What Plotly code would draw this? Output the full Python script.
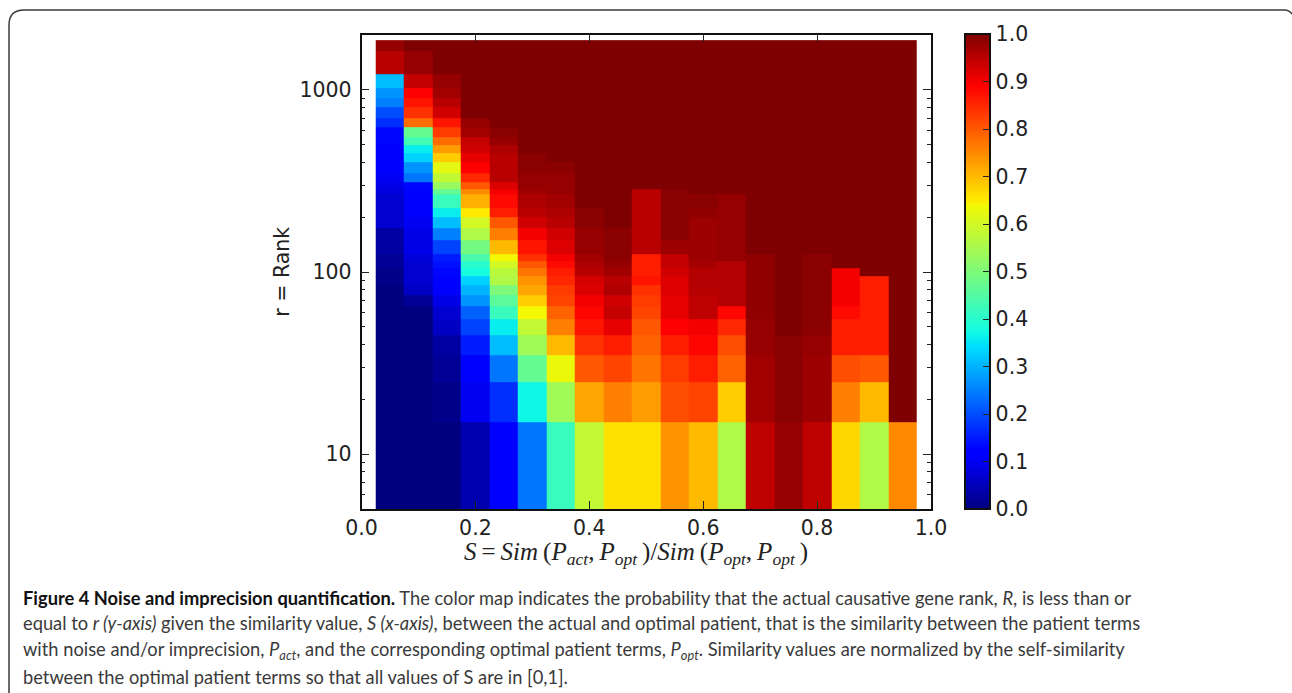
import plotly.graph_objects as go

W, H = 1292, 693
x_edges = [0.025, 0.075, 0.125, 0.175, 0.225, 0.275, 0.325, 0.375, 0.425, 0.475,
           0.525, 0.575, 0.625, 0.675, 0.725, 0.775, 0.825, 0.875, 0.925, 0.975]
rank_edges = [5, 15, 25, 35, 45, 55, 65, 75, 85, 95, 105, 115, 125, 150, 175, 200, 225, 267, 285,
              310, 350, 400, 450, 500, 550, 625, 700, 800, 900, 1025, 1225, 1625, 1875]

# values per S column, from the lowest rank bin upwards (32 bins)
s05 = [0,0,0,0,0,0,0,0,.01,.01,.02,.02,.03,.03,.07,.07,.07,.08,.09,.10,.11,.12,.12,.13,.13,.17,.20,.25,.27,.31,.95,.98]
s10 = [0,0,0,0,0,0,.02,.06,.07,.07,.07,.08,.09,.09,.10,.11,.12,.12,.13,.24,.27,.33,.36,.43,.47,.78,.84,.87,.89,.94,.98,1]
s15 = [0,.01,.02,.03,.06,.07,.09,.12,.125,.13,.14,.15,.19,.25,.31,.36,.42,.47,.53,.58,.62,.68,.73,.78,.83,.87,.93,.95,.97,.98,1,1]
s20 = [.04,.10,.125,.15,.19,.22,.27,.30,.33,.38,.40,.44,.49,.56,.60,.65,.71,.75,.80,.85,.89,.91,.93,.94,.97,.98,1,1,1,1,1,1]
s25 = [.11,.17,.24,.31,.36,.42,.46,.50,.56,.57,.60,.64,.70,.76,.80,.86,.88,.90,.92,.95,.95,.95,.96,.98,.99,1,1,1,1,1,1,1]
s30 = [.24,.37,.47,.54,.58,.64,.68,.72,.74,.77,.80,.84,.87,.90,.93,.95,.96,.97,.98,.98,.99,.99,1,1,1,1,1,1,1,1,1,1]
s35 = [.42,.54,.63,.70,.76,.79,.82,.83,.85,.86,.88,.90,.92,.93,.95,.96,.97,.98,.98,.98,.99,1,1,1,1,1,1,1,1,1,1,1]
s40 = [.58,.72,.80,.84,.87,.885,.90,.92,.925,.95,.96,.97,.98,.98,.99,.99,1,1,1,1,1,1,1,1,1,1,1,1,1,1,1,1]
s45 = [.66,.76,.82,.86,.91,.94,.93,.96,.95,.97,.98,.99,.99,.99,1,1,1,1,1,1,1,1,1,1,1,1,1,1,1,1,1,1]
s50 = [.66,.73,.77,.79,.80,.82,.83,.84,.87,.86,.86,.86,.95,.95,.95,.95,.95,.95,1,1,1,1,1,1,1,1,1,1,1,1,1,1]
s55 = [.74,.81,.83,.86,.89,.91,.91,.92,.92,.93,.94,.94,.975,.99,.99,.99,.99,.99,1,1,1,1,1,1,1,1,1,1,1,1,1,1]
s60 = [.70,.82,.86,.885,.90,.945,.945,.955,.955,.955,.965,.975,.975,.975,.975,.985,.99,1,1,1,1,1,1,1,1,1,1,1,1,1,1,1]
s65 = [.56,.68,.79,.81,.85,.885,.955,.955,.955,.955,.955,.98,.98,.98,.98,.98,.98,1,1,1,1,1,1,1,1,1,1,1,1,1,1,1]
s70 = [.945,.97,.97,.98,.98,.985,.985,.985,.985,.985,.985,.985,1,1,1,1,1,1,1,1,1,1,1,1,1,1,1,1,1,1,1,1]
s75 = [.98,.99,.99,.99,1,1,1,1,1,1,1,1,1,1,1,1,1,1,1,1,1,1,1,1,1,1,1,1,1,1,1,1]
s80 = [.945,.975,.975,.98,.99,.99,.99,.99,.99,.99,.99,.99,1,1,1,1,1,1,1,1,1,1,1,1,1,1,1,1,1,1,1,1]
s85 = [.67,.76,.81,.86,.86,.88,.90,.90,.90,.90,1,1,1,1,1,1,1,1,1,1,1,1,1,1,1,1,1,1,1,1,1,1]
s90 = [.56,.70,.80,.86,.86,.86,.86,.86,.86,1,1,1,1,1,1,1,1,1,1,1,1,1,1,1,1,1,1,1,1,1,1,1]
s95 = [.75,1,1,1,1,1,1,1,1,1,1,1,1,1,1,1,1,1,1,1,1,1,1,1,1,1,1,1,1,1,1,1]
columns = [s05, s10, s15, s20, s25, s30, s35, s40, s45, s50, s55, s60, s65, s70, s75, s80, s85, s90, s95]
z = [[c[i] for c in columns] for i in range(len(rank_edges) - 1)]

x_ticks = [0, 0.2, 0.4, 0.6, 0.8, 1.0]
x_ticklabels = ["0.0", "0.2", "0.4", "0.6", "0.8", "1.0"]
y_minor = [6, 7, 8, 9, 20, 30, 40, 50, 60, 70, 80, 90, 200, 300, 400, 500, 600, 700, 800, 900, 2000]
cb_ticks = [0, .1, .2, .3, .4, .5, .6, .7, .8, .9, 1.0]
cb_labels = ["0.0", "0.1", "0.2", "0.3", "0.4", "0.5", "0.6", "0.7", "0.8", "0.9", "1.0"]

jet = [[0, "#00007f"], [.11, "#0000ff"], [.125, "#0000ff"], [.34, "#00dcff"], [.35, "#00e5f7"],
       [.375, "#13fce3"], [.64, "#f4f802"], [.65, "#ffea00"], [.66, "#ffe100"],
       [.89, "#ff0000"], [.91, "#e80000"], [1, "#7f0000"]]

fw = 1.7
PX = lambda p: p / W
PY = lambda p: 1 - p / H
top, bottom = 34.5, 509
left, right = 361.5, 931
sp = "\u2009"

fig = go.Figure(go.Heatmap(
    x=x_edges, y=rank_edges, z=z, zmin=0, zmax=1, colorscale=jet, zsmooth=False,
    hoverinfo="skip",
    colorbar=dict(
        x=PX(965), xanchor="left", xpad=0, ypad=0, thickness=25, thicknessmode="pixels",
        y=PY(bottom), yanchor="bottom", len=(bottom - top) / H, lenmode="fraction",
        outlinewidth=2, outlinecolor="#111", borderwidth=0,
        tickmode="array", tickvals=cb_ticks, ticktext=cb_labels,
        ticks="inside", ticklen=8, tickcolor="#222", tickwidth=1,
        tickfont=dict(family="DejaVu Sans", size=20.5, color="#222"),
    ),
))

fig.update_layout(
    width=W, height=H, autosize=False, paper_bgcolor="white", plot_bgcolor="white",
    margin=dict(l=0, r=0, t=0, b=0, autoexpand=False), showlegend=False,
    font=dict(family="DejaVu Sans", color="#222"),
    xaxis=dict(domain=[PX(left), PX(right)], range=[0, 1], tickmode="array", tickvals=x_ticks,
               ticktext=x_ticklabels, ticks="inside", ticklen=8, tickwidth=1, tickcolor="#222",
               mirror="allticks", showline=True, linewidth=fw, linecolor="#111", showgrid=False,
               zeroline=False, tickfont=dict(size=20.5, color="#222")),
    yaxis=dict(domain=[PY(bottom), PY(top)], type="log", range=[0.699, 3.304], tick0=0, dtick=1,
               ticks="inside", ticklen=8, tickwidth=1, tickcolor="#222", mirror="allticks",
               showline=True, linewidth=fw, linecolor="#111", showgrid=False, zeroline=False,
               tickfont=dict(size=20.5, color="#222"), ticklabelstandoff=4,
               minor=dict(tickmode="array", tickvals=y_minor, ticks="inside", ticklen=4, tickwidth=1,
                          tickcolor="#222", showgrid=False),
               title=dict(text="r = Rank", font=dict(size=20.5, color="#222"), standoff=4)),
)

x_title = (f"<i>S</i>{sp}={sp}<i>Sim</i>{sp}(<i>P<sub>act</sub></i>,{sp}<i>P<sub>opt</sub></i>{sp})/"
           f"<i>Sim</i>{sp}(<i>P<sub>opt</sub></i>,{sp}<i>P<sub>opt</sub></i>{sp})")
fig.add_annotation(text=x_title, xref="paper", yref="paper", x=PX(635.5), y=PY(553), xanchor="center",
                   yanchor="middle", showarrow=False,
                   font=dict(family="Liberation Serif", size=25, color="#222"))

# rounded frame of the figure panel
fig.add_shape(type="path", xref="paper", yref="paper", layer="above",
              path=f"M {PX(9)},{PY(693)} L {PX(9)},{PY(25)} Q {PX(9)},{PY(10)} {PX(24)},{PY(10)} "
                   f"L {PX(1285)},{PY(10)} Q {PX(1289)},{PY(10)} {PX(1292)},{PY(14)}",
              line=dict(color="#3a3a3a", width=1.5))

caption_font = dict(family="Lato", size=18.3, color="#3a3a3a")
caption_lines = [
    (598, "<b style='color:#111'>Figure 4 Noise and imprecision quantification.</b> The color map indicates the probability that the actual causative gene rank, <i>R</i>, is less than or"),
    (623, "equal to <i>r (y-axis)</i> given the similarity value, <i>S (x-axis)</i>, between the actual and optimal patient, that is the similarity between the patient terms"),
    (650, "with noise and/or imprecision, <i>P<sub>act</sub></i>, and the corresponding optimal patient terms, <i>P<sub>opt</sub></i>. Similarity values are normalized by the self-similarity"),
    (677, "between the optimal patient terms so that all values of S are in [0,1]."),
]
for yy, txt in caption_lines:
    fig.add_annotation(text=txt, xref="paper", yref="paper", x=PX(21), y=PY(yy), xanchor="left",
                       yanchor="middle", showarrow=False, align="left", font=caption_font)

fig.write_html("out.html", config={"displayModeBar": False},
               post_script="document.body.style.margin='0';document.body.style.overflow='hidden';")
